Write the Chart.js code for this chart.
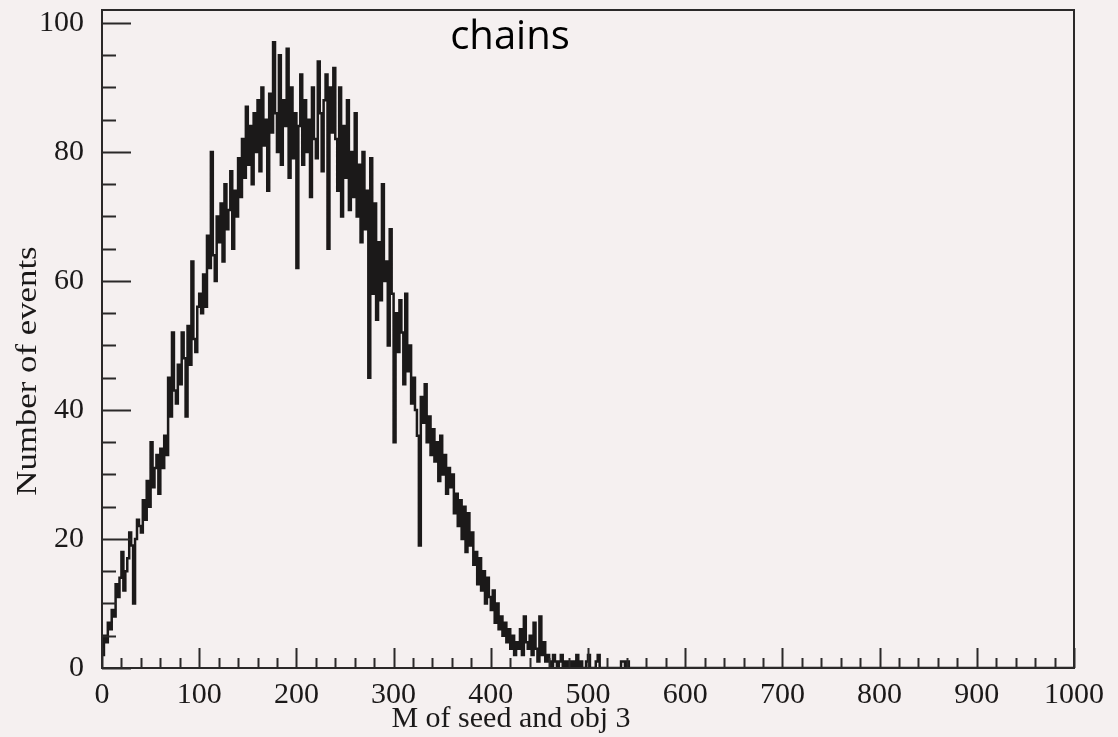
<!DOCTYPE html>
<html>
<head>
<meta charset="utf-8">
<title>M of seed and obj 3</title>
<script src="https://cdn.jsdelivr.net/npm/chart.js@4/dist/chart.umd.min.js"></script>
<style>
  html, body { margin: 0; padding: 0; background: #f5f0f0; }
  #wrap { width: 1118px; height: 737px; }
</style>
</head>
<body>
<div id="wrap"><canvas id="histo" width="1118" height="737"></canvas></div>
<script>
// histogram: bins of width 2, starting at 0 (everything above 550 is empty)
const binWidth = 2;
const counts = [
  2, 5, 4, 7, 6, 9, 8, 13, 11, 14,          // 0-18
  18, 12, 15, 17, 21, 19, 10, 20, 23, 22,   // 20-38
  21, 26, 23, 29, 25, 35, 28, 31, 33, 27,   // 40-58
  34, 31, 36, 33, 45, 39, 52, 43, 41, 47,   // 60-78
  44, 52, 48, 39, 53, 47, 63, 51, 49, 56,   // 80-98
  58, 55, 61, 56, 67, 62, 80, 64, 60, 70,   // 100-118
  66, 72, 63, 75, 68, 71, 77, 65, 74, 70,   // 120-138
  79, 73, 82, 76, 87, 78, 84, 75, 86, 80,   // 140-158
  88, 77, 90, 81, 85, 74, 89, 83, 97, 86,   // 160-178
  80, 95, 78, 88, 84, 96, 76, 90, 79, 86,   // 180-198
  62, 84, 92, 78, 88, 80, 85, 73, 90, 82,   // 200-218
  79, 94, 86, 77, 88, 92, 65, 90, 83, 93,   // 220-238
  82, 74, 90, 70, 84, 76, 88, 71, 80, 73,   // 240-258
  86, 70, 78, 66, 80, 68, 74, 45, 79, 58,   // 260-278
  72, 54, 66, 57, 75, 60, 63, 50, 68, 58,   // 280-298
  35, 55, 49, 57, 52, 44, 58, 46, 50, 41,   // 300-318
  45, 40, 36, 19, 42, 38, 44, 35, 39, 33,   // 320-338
  37, 32, 35, 29, 36, 30, 33, 27, 31, 28,   // 340-358
  30, 24, 27, 22, 26, 20, 25, 18, 24, 19,   // 360-378
  21, 16, 18, 13, 17, 12, 15, 10, 14, 11,   // 380-398
  9, 12, 7, 10, 6, 8, 5, 7, 4, 6,           // 400-418
  3, 5, 2, 4, 3, 6, 2, 8, 4, 3,             // 420-438
  5, 2, 7, 3, 1, 8, 2, 4, 1, 2,             // 440-458
  1, 0, 2, 1, 0, 1, 2, 0, 1, 0,             // 460-478
  1, 0, 1, 0, 2, 0, 1, 0, 0, 1,             // 480-498
  2, 0, 0, 0, 1, 2, 0, 0, 0, 0,             // 500-518
  0, 0, 0, 0, 0, 0, 0, 1, 1, 0,             // 520-538
  1, 0, 0, 0, 0                             // 540-548
];
const xTicks = [0, 100, 200, 300, 400, 500, 600, 700, 800, 900, 1000];
const yTicks = [0, 20, 40, 60, 80, 100];
const xRange = [0, 1000];
const yRange = [0, 102];

const xTitle = 'M of seed and obj 3';
const yTitle = 'Number of events';
const topNote = 'chains';

// left edge of every bin, then a closing point back on zero
const points = counts.map((c, i) => ({ x: i * binWidth, y: c }));
points.push({ x: counts.length * binWidth, y: 0 });
points.push({ x: xRange[1], y: 0 });

const serif = '"Liberation Serif", "Times New Roman", serif';
const ink = '#1b1919';

// paper colour behind everything
const paper = {
  id: 'paper',
  beforeDraw(chart) {
    const ctx = chart.ctx;
    ctx.save();
    ctx.fillStyle = '#f5f0f0';
    ctx.fillRect(0, 0, chart.width, chart.height);
    ctx.restore();
  }
};

// ROOT-like frame: box, inward ticks, axis titles
const frame = {
  id: 'frame',
  afterDraw(chart) {
    const { ctx, chartArea: a, scales } = chart;
    const xs = scales.x, ys = scales.y;
    ctx.save();
    ctx.strokeStyle = '#2b2929';
    ctx.lineWidth = 2;
    ctx.strokeRect(a.left, a.top, a.right - a.left, a.bottom - a.top);

    ctx.beginPath();
    for (let v = xRange[0]; v <= xRange[1]; v += 20) {
      const px = Math.round(xs.getPixelForValue(v)) + 0.5;
      const len = v % 100 === 0 ? 20 : 10;
      ctx.moveTo(px, a.bottom);
      ctx.lineTo(px, a.bottom - len);
    }
    for (let v = 0; v <= 100; v += 5) {
      const py = Math.round(ys.getPixelForValue(v)) + 0.5;
      const len = v % 20 === 0 ? 29 : 14;
      ctx.moveTo(a.left, py);
      ctx.lineTo(a.left + len, py);
    }
    ctx.stroke();

    ctx.fillStyle = ink;
    ctx.textAlign = 'center';
    ctx.textBaseline = 'middle';

    ctx.font = '30px ' + serif;
    ctx.fillText(xTitle, 511, 719);

    ctx.save();
    ctx.translate(28, 371);
    ctx.rotate(-Math.PI / 2);
    ctx.scale(1.16, 1);
    ctx.font = '30px ' + serif;
    ctx.fillText(yTitle, 0, 0);
    ctx.restore();

    ctx.font = '40px "Open Sans", "Noto Sans", sans-serif';
    ctx.fillStyle = '#000';
    ctx.fillText(topNote, 510, 38);
    ctx.restore();
  }
};

new Chart(document.getElementById('histo'), {
  type: 'line',
  data: {
    datasets: [{
      data: points,
      stepped: true,
      borderColor: ink,
      borderWidth: 2.5,
      pointRadius: 0,
      fill: false,
      tension: 0
    }]
  },
  options: {
    responsive: false,
    animation: false,
    events: [],
    layout: { padding: { left: 0, right: 44, top: 10, bottom: 0 } },
    plugins: { legend: { display: false }, tooltip: { enabled: false } },
    scales: {
      x: {
        type: 'linear',
        min: xRange[0],
        max: xRange[1],
        grid: { display: false },
        border: { display: false },
        afterFit(s) { s.height = 69; s.paddingLeft = 0; s.paddingRight = 0; },
        afterBuildTicks(s) { s.ticks = xTicks.map(v => ({ value: v })); },
        ticks: {
          autoSkip: false,
          maxRotation: 0,
          padding: 1,
          color: ink,
          font: { family: serif, size: 30 },
          callback: v => String(v)
        }
      },
      y: {
        type: 'linear',
        min: yRange[0],
        max: yRange[1],
        grid: { display: false },
        border: { display: false },
        afterFit(s) { s.width = 102; s.paddingTop = 0; s.paddingBottom = 0; },
        afterBuildTicks(s) { s.ticks = yTicks.map(v => ({ value: v })); },
        ticks: {
          padding: 10,
          color: ink,
          font: { family: serif, size: 30 },
          callback: v => String(v)
        }
      }
    }
  },
  plugins: [paper, frame]
});
</script>
</body>
</html>
